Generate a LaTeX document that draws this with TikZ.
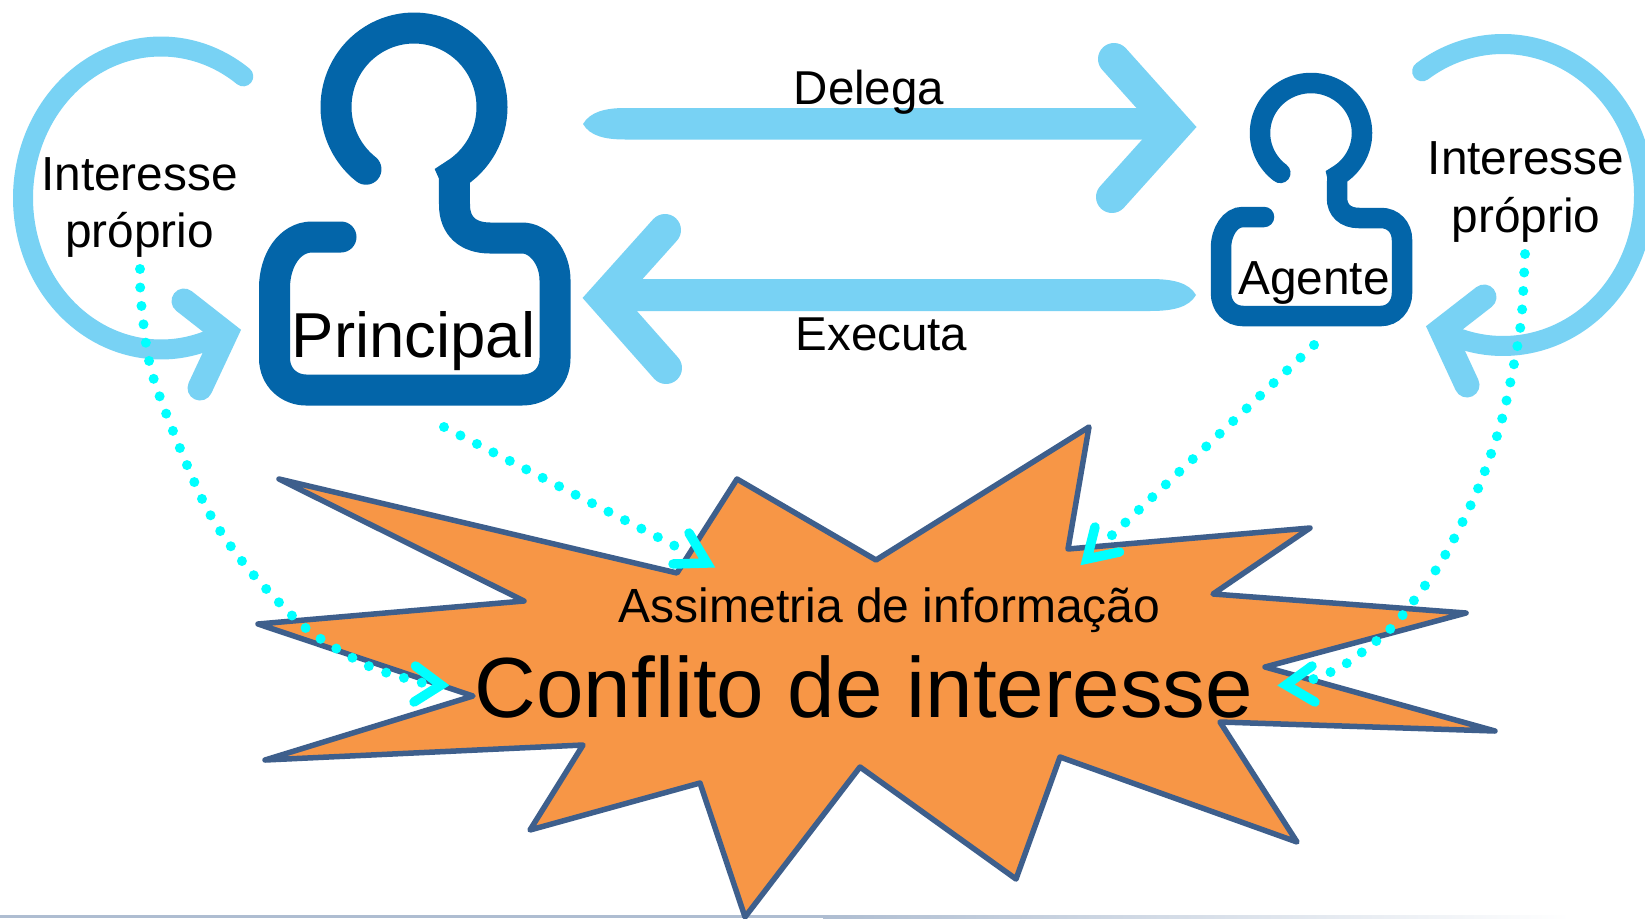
\documentclass[tikz,border=0pt]{standalone}
\usepackage{fontspec}
\setmainfont{Liberation Sans}
\definecolor{ltblue}{HTML}{78D2F4}
\definecolor{dkblue}{HTML}{0365A9}
\definecolor{burst}{HTML}{F79646}
\definecolor{burstline}{HTML}{3E5F8C}
\definecolor{barcol}{HTML}{AEBDD1}
\definecolor{dotcyan}{HTML}{00FFFF}
\tikzset{
  label/.style={inner sep=0pt,anchor=base,text=black},
  figure/.style={draw=dkblue,line cap=round,line join=miter,miter limit=10},
  ring/.style={draw=ltblue,line width=20pt,line cap=round},
  ringhead/.style={draw=ltblue,line width=25pt,line cap=round,line join=miter,miter limit=10},
  bighead/.style={draw=ltblue,line width=32pt,line cap=round,line join=miter,miter limit=10},
  shaft/.style={fill=ltblue},
  dotline/.style={draw=dotcyan,line width=10pt,line cap=round,dash pattern=on 0pt off 18.5pt},
  dothead/.style={draw=dotcyan,line width=9.5pt,line cap=round,line join=miter,miter limit=10},
  burstshape/.style={fill=burst,draw=burstline,line width=5.5pt,line join=round}
}
\begin{document}
\begin{tikzpicture}[x=1pt,y=-1pt]
\useasboundingbox (0,0) rectangle (1645,918);
\clip (0,0) rectangle (1645,918);
\fill[white] (0,0) rectangle (1645,918);
% bottom rule
\fill[barcol] (0,915) rectangle (823,918);
\fill[left color=barcol,right color=white] (823,915) rectangle (1570,918);
% burst
\draw[burstshape] (279,479) -- (677,573) -- (737,479) -- (876,560) -- (1089,427) -- (1068,549)
  -- (1310,528) -- (1213,594) -- (1466,613) -- (1265,667) -- (1495,731) -- (1220,722)
  -- (1297,842) -- (1060,757) -- (1016,879) -- (860,767) -- (745,917) -- (700,783)
  -- (530,830) -- (583,745) -- (265,760) -- (473,696) -- (258,624) -- (524,601) -- cycle;
% side rings
\draw[ring] plot[domain=53.4:296,samples=90,smooth] ({161+138*cos(\x)},{198-151.5*sin(\x)});
\draw[ringhead] (184,301) -- (225.5,333.5) -- (200,388);
\draw[ring] plot[domain=-116:125,samples=90,smooth] ({1503+141*cos(\x)},{195-151*sin(\x)});
\draw[ringhead] (1484,297) -- (1441.5,330) -- (1467,385);
% delega / executa
\fill[shaft] (583,124) .. controls (590,112) and (605,108) .. (625,108) -- (1180,108) -- (1180,139.5) -- (625,139.5)
  .. controls (605,139.5) and (590,136) .. (583,124) -- cycle;
\draw[bighead] (1114,59) -- (1175,127) -- (1112,197);
\fill[shaft] (1196,295) .. controls (1189,283) and (1174,279) .. (1150,279) -- (600,279) -- (600,311) -- (1150,311)
  .. controls (1174,311) and (1189,307) .. (1196,295) -- cycle;
\draw[bighead] (665,230) -- (604,298) -- (666,368);
% principal figure
\draw[figure,line width=31pt] (341,237) -- (312,237) .. controls (290,237) and (274.5,260) .. (274.5,288)
  -- (274.5,358) .. controls (274.5,378) and (290,390) .. (306,390) -- (522,390)
  .. controls (540,390) and (555,378) .. (555,358) -- (555,280) .. controls (555,258) and (540,238) .. (522,238)
  -- (490,238) .. controls (468,238) and (454.5,226) .. (454.5,205) -- (454.3,175)
  -- plot[domain=-59:232,samples=80] ({414+78*cos(\x)},{107-79*sin(\x)});
% agente figure
\draw[figure,line width=20.5pt] (1264,217) -- (1243,217) .. controls (1230,217) and (1221,232) .. (1221,248)
  -- (1221,293) .. controls (1221,306) and (1230,316) .. (1243,316) -- (1381,316)
  .. controls (1393,316) and (1402,306) .. (1402,293) -- (1402,240) .. controls (1402,227) and (1393,218) .. (1381,218)
  -- (1359,218) .. controls (1345,218) and (1337,210) .. (1337,198) -- (1337.3,176)
  -- plot[domain=-59:233,samples=80] ({1311+51*cos(\x)},{133-50*sin(\x)});
% texts
\node[label,font=\fontsize{63.5}{64}\selectfont] (principal) at (413.5,357) {Principal};
\node[label,font=\fontsize{47.8}{48}\selectfont] (agente) at (1314,294) {Agente};
\node[label,font=\fontsize{47.8}{48}\selectfont] (intL) at (139.5,190) {Interesse};
\node[label,font=\fontsize{47.8}{48}\selectfont] (propL) at (139.5,247) {próprio};
\node[label,font=\fontsize{47.8}{48}\selectfont] (intR) at (1526,174) {Interesse};
\node[label,font=\fontsize{47.8}{48}\selectfont] (propR) at (1526,232.5) {próprio};
\node[label,font=\fontsize{47.5}{48}\selectfont] (delega) at (869,104) {Delega};
\node[label,font=\fontsize{47.5}{48}\selectfont] (executa) at (881.5,350) {Executa};
\node[label,font=\fontsize{48}{48}\selectfont] (assim) at (889.5,622.5) {Assimetria de informação};
\node[label,font=\fontsize{85.4}{86}\selectfont] (conflito) at (864,717) {Conflito de interesse};
% dotted connectors
\coordinate (a1) at (140,269); \coordinate (a2) at (141.6,307); \coordinate (a3) at (154,380);
\coordinate (a4) at (203,501); \coordinate (a5) at (243.5,563); \coordinate (a6) at (294.5,618);
\coordinate (a7) at (324,641); \coordinate (a8) at (373,668); \coordinate (a9) at (427,684);
\draw[dotline] plot[smooth] coordinates {(a1) (a2) (a3) (a4) (a5) (a6) (a7) (a8) (a9)};
\coordinate (ltip) at (441,685); \coordinate (lb1) at (415.5,666); \coordinate (lb2) at (414,702);
\draw[dothead] (lb1) -- (ltip) -- (lb2);
\coordinate (b1) at (444,427); \coordinate (b2) at (677,547);
\draw[dotline] (b1) -- (b2);
\coordinate (btip) at (707,563); \coordinate (bb1) at (689,533); \coordinate (bb2) at (673,564);
\draw[dothead] (bb1) -- (btip) -- (bb2);
\coordinate (c1) at (1314,345); \coordinate (c2) at (1232,423); \coordinate (c3) at (1110,537);
\draw[dotline] (c1) -- (c3);
\coordinate (ctip) at (1087,559); \coordinate (cb1) at (1095,527); \coordinate (cb2) at (1119.5,552);
\draw[dothead] (cb1) -- (ctip) -- (cb2);
\coordinate (d1) at (1525,254); \coordinate (d2) at (1522,311); \coordinate (d3) at (1517,348);
\coordinate (d4) at (1501.5,421); \coordinate (d5) at (1477,491); \coordinate (d6) at (1444,557);
\coordinate (d7) at (1412,603); \coordinate (d8) at (1387,632); \coordinate (d9) at (1342.5,666);
\coordinate (d10) at (1308,681);
\draw[dotline] plot[smooth] coordinates {(d1) (d2) (d3) (d4) (d5) (d6) (d7) (d8) (d9) (d10)};
\coordinate (dtip) at (1286,685); \coordinate (db1) at (1312,666); \coordinate (db2) at (1315,702);
\draw[dothead] (db1) -- (dtip) -- (db2);
\end{tikzpicture}
\end{document}
